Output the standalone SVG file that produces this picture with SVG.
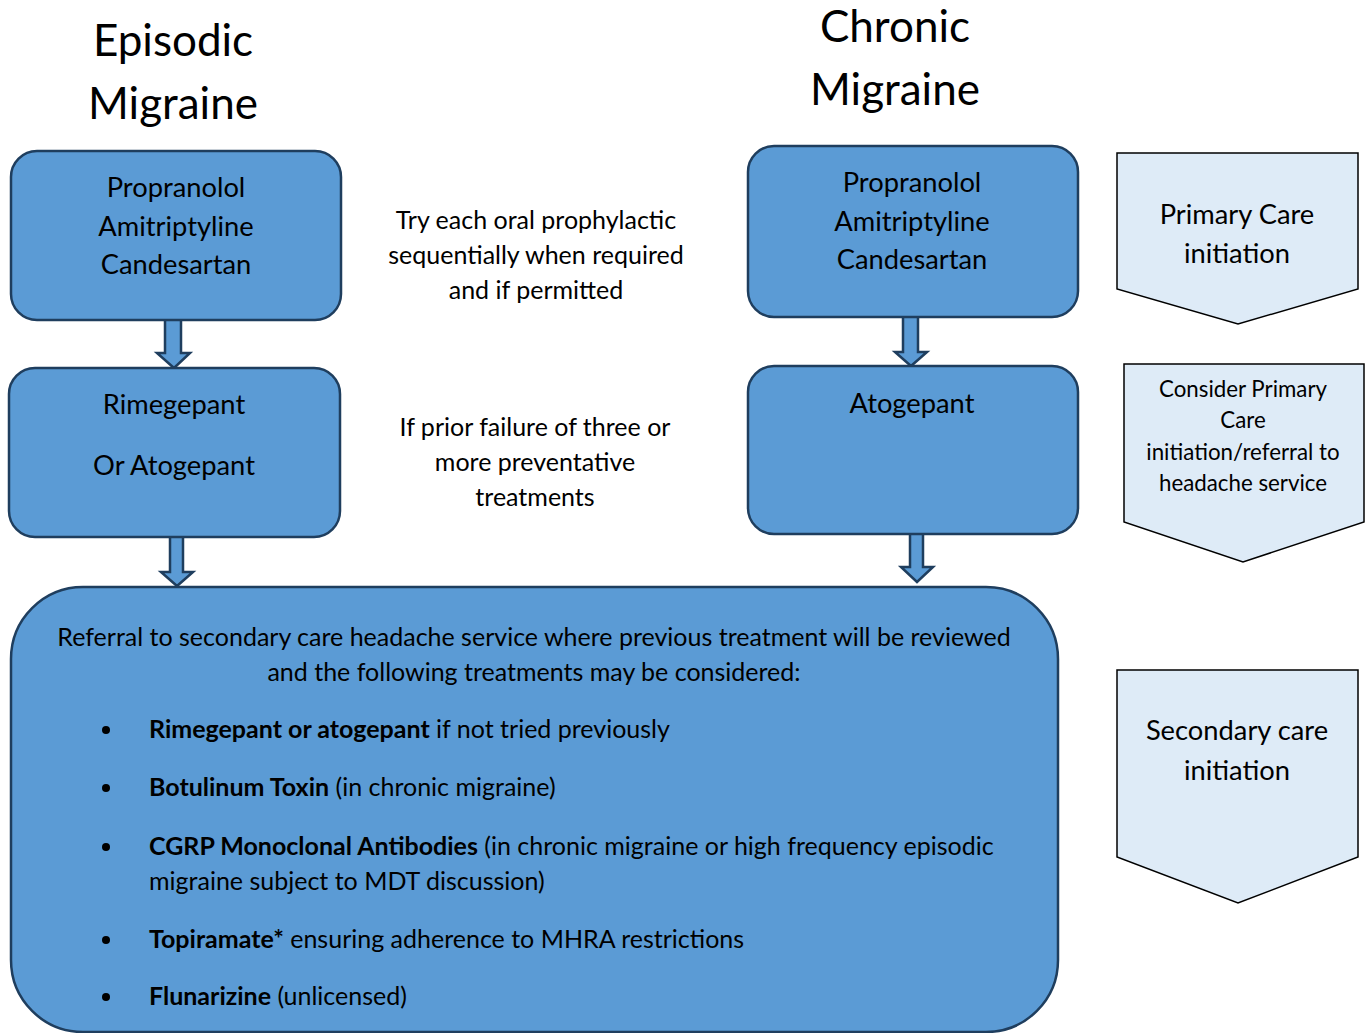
<svg xmlns="http://www.w3.org/2000/svg" width="1371" height="1033" viewBox="0 0 1371 1033">
<style>
text{font-family:Lato,"Open Sans",sans-serif;fill:#000}
.t{font-size:44px;text-anchor:middle}
.b{font-size:27.3px;text-anchor:middle}
.m{font-size:25px;text-anchor:middle}
.c{font-size:22.3px;text-anchor:middle}
.l{font-size:25px}
.box{fill:#5b9bd5;stroke:#1f3e5e;stroke-width:2.5}
.chev{fill:#deebf7;stroke:#000;stroke-width:1.5}
.arr{fill:#5b9bd5;stroke:#1f3e5e;stroke-width:2.5;stroke-linejoin:miter}
</style>
<rect width="1371" height="1033" fill="#fff"/>
<g id="titles">
<text class="t" x="173" y="56">Episodic</text>
<text class="t" x="173" y="119">Migraine</text>
<text class="t" x="895" y="42">Chronic</text>
<text class="t" x="895" y="105">Migraine</text>
</g>
<g id="connectors">
<path class="arr" d="M165,320 V353 H157 L174,368 L190,353 H181 V320"/>
<path class="arr" d="M170,537 V572 H161 L177,586 L193,572 H183 V537"/>
<path class="arr" d="M903,317 V352 H895 L911,366 L927,352 H918 V317"/>
<path class="arr" d="M910,534 V567 H901 L917,582 L933,567 H923 V534"/>
</g>
<g id="ep1">
<rect class="box" x="11" y="151" width="330" height="169" rx="26"/>
<text class="b" x="176" y="197">Propranolol</text>
<text class="b" x="176" y="236">Amitriptyline</text>
<text class="b" x="176" y="274">Candesartan</text>
</g>
<g id="ep2">
<rect class="box" x="9" y="368" width="331" height="169" rx="26"/>
<text class="b" x="174" y="414">Rimegepant</text>
<text class="b" x="174" y="475">Or Atogepant</text>
</g>
<g id="ch1">
<rect class="box" x="748" y="146" width="330" height="171" rx="26"/>
<text class="b" x="912" y="192">Propranolol</text>
<text class="b" x="912" y="231">Amitriptyline</text>
<text class="b" x="912" y="269">Candesartan</text>
</g>
<g id="ch2">
<rect class="box" x="748" y="366" width="330" height="168" rx="26"/>
<text class="b" x="912" y="413">Atogepant</text>
</g>
<g id="note1">
<text class="m" x="536" y="229">Try each oral prophylactic</text>
<text class="m" x="536" y="264">sequentially when required</text>
<text class="m" x="536" y="299">and if permitted</text>
</g>
<g id="note2">
<text class="m" x="535" y="436">If prior failure of three or</text>
<text class="m" x="535" y="471">more preventative</text>
<text class="m" x="535" y="506">treatments</text>
</g>
<g id="secondary">
<path class="box" d="M83,587 H986 A72,72 0 0 1 1058,659 V960 A72,72 0 0 1 986,1032 H83 A72,72 0 0 1 11,960 V659 A72,72 0 0 1 83,587 Z"/>
<text class="m" x="534" y="646">Referral to secondary care headache service where previous treatment will be reviewed</text>
<text class="m" x="534" y="681">and the following treatments may be considered:</text>
<circle cx="106" cy="730" r="4"/>
<text class="l" x="149" y="738"><tspan font-weight="bold">Rimegepant or atogepant</tspan> if not tried previously</text>
<circle cx="106" cy="788" r="4"/>
<text class="l" x="149" y="796"><tspan font-weight="bold">Botulinum Toxin</tspan> (in chronic migraine)</text>
<circle cx="106" cy="847" r="4"/>
<text class="l" x="149" y="855"><tspan font-weight="bold">CGRP Monoclonal Antibodies</tspan> (in chronic migraine or high frequency episodic</text>
<text class="l" x="149" y="890">migraine subject to MDT discussion)</text>
<circle cx="106" cy="940" r="4"/>
<text class="l" x="149" y="948"><tspan font-weight="bold">Topiramate*</tspan> ensuring adherence to MHRA restrictions</text>
<circle cx="106" cy="997" r="4"/>
<text class="l" x="149" y="1005"><tspan font-weight="bold">Flunarizine</tspan> (unlicensed)</text>
</g>
<g id="primary-care">
<path class="chev" d="M1117,153 H1358 V289 L1238,324 L1117,289 Z"/>
<text class="b" x="1237" y="224">Primary Care</text>
<text class="b" x="1237" y="263">initiation</text>
</g>
<g id="consider-primary">
<path class="chev" d="M1124,364 H1364 V522 L1243,562 L1124,522 Z"/>
<text class="c" x="1243" y="397">Consider Primary</text>
<text class="c" x="1243" y="428">Care</text>
<text class="c" x="1243" y="460">initiation/referral to</text>
<text class="c" x="1243" y="491">headache service</text>
</g>
<g id="secondary-care">
<path class="chev" d="M1117,670 H1358 V857 L1238,903 L1117,857 Z"/>
<text class="b" x="1237" y="740">Secondary care</text>
<text class="b" x="1237" y="780">initiation</text>
</g>
</svg>
